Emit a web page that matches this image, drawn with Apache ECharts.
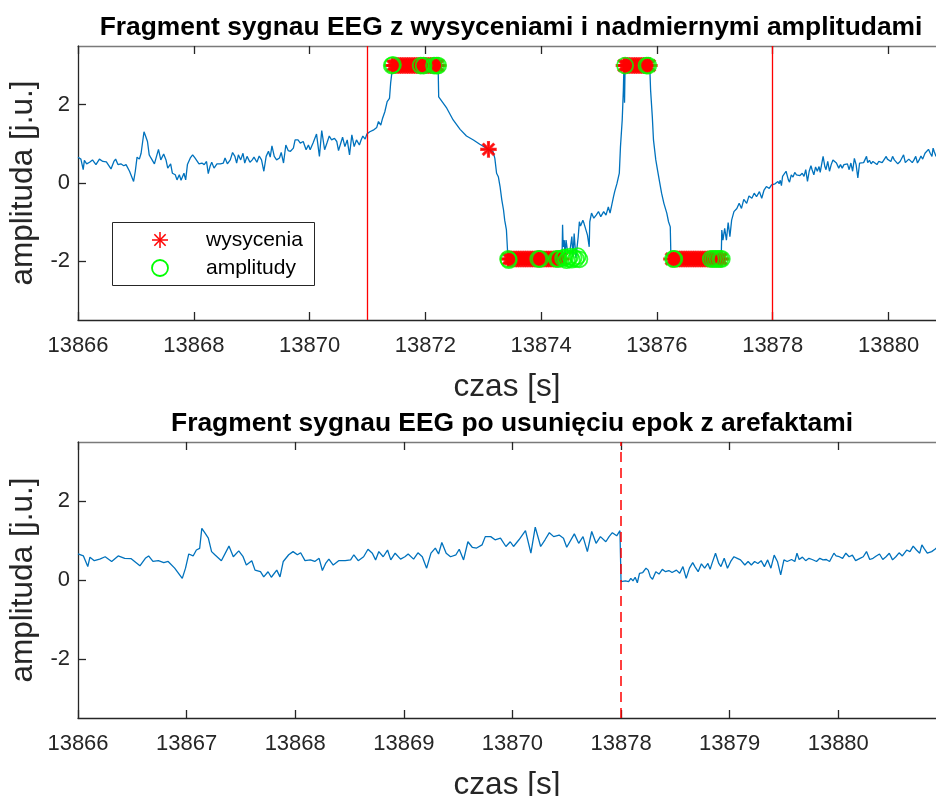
<!DOCTYPE html>
<html>
<head>
<meta charset="utf-8">
<script src="https://cdn.jsdelivr.net/npm/echarts@6/dist/echarts.min.js"></script>
<style>
  html, body { margin: 0; padding: 0; background: #ffffff; }
  #chart { width: 936px; height: 796px; }
</style>
</head>
<body>
<div id="chart"></div>
<script>
// Start of the fragment [s]; sample times below are offsets from it
const T0 = 13866;

// EEG fragment: sample times (offset from T0, s) and amplitudes [j.u.]
const czasSygnalu = [
  0.00, 0.05, 0.09, 0.11, 0.15, 0.20, 0.25, 0.31, 0.37, 0.43, 0.49, 0.57, 0.62, 0.65, 0.69, 0.74,
  0.79, 0.83, 0.89, 0.96, 0.99, 1.02, 1.06, 1.09, 1.12, 1.14, 1.17, 1.20, 1.23, 1.26, 1.32, 1.39,
  1.43, 1.48, 1.52, 1.55, 1.60, 1.63, 1.68, 1.71, 1.75, 1.78, 1.83, 1.86, 1.89, 1.94, 1.98, 2.02,
  2.05, 2.09, 2.14, 2.18, 2.22, 2.25, 2.28, 2.31, 2.35, 2.40, 2.46, 2.51, 2.54,
  2.58, 2.63, 2.67, 2.71, 2.74, 2.77, 2.81, 2.85, 2.88, 2.92, 2.97, 3.01, 3.04, 3.09, 3.13, 3.17,
  3.21, 3.25, 3.29, 3.32, 3.35, 3.39, 3.43, 3.48, 3.51, 3.55, 3.59, 3.63, 3.67, 3.72, 3.75, 3.80,
  3.84, 3.89, 3.94, 3.98, 4.01, 4.06, 4.12, 4.17, 4.21, 4.26, 4.30, 4.34, 4.38, 4.43, 4.47, 4.50,
  4.57, 4.61, 4.65, 4.69, 4.73, 4.77, 4.81, 4.86, 4.89, 4.92, 4.96, 4.99,
  5.04, 5.10, 5.16, 5.19, 5.23, 5.26, 5.30, 5.34, 5.38, 5.40, 5.42, 5.43, 6.22, 6.23, 6.25, 6.37,
  6.48, 6.60, 6.71, 6.83, 6.94, 7.09, 7.17, 7.20, 7.23, 7.26, 7.29, 7.32, 7.35, 7.37, 7.40, 7.42,
  7.43, 8.36, 8.37, 8.38, 8.40, 8.41, 8.43, 8.46, 8.50, 8.53, 8.55, 8.57, 8.60, 8.64, 8.66, 8.68,
  8.72, 8.74, 8.77, 8.80, 8.83, 8.84, 8.87, 8.91, 8.95, 8.99, 9.03, 9.08, 9.12, 9.16, 9.19, 9.22,
  9.25, 9.27, 9.31, 9.35, 9.37, 9.40, 9.42, 9.43, 9.44, 9.45, 9.87, 9.88, 9.89, 9.92, 9.94, 9.98,
  10.01, 10.05, 10.08, 10.12, 10.17, 10.20, 10.23, 10.24, 10.25, 11.11, 11.12, 11.14, 11.17, 11.20,
  11.23, 11.26, 11.29, 11.33, 11.38, 11.42, 11.46, 11.50, 11.55, 11.59, 11.64, 11.68, 11.72, 11.77,
  11.81, 11.85, 11.89, 11.94, 11.98,
  12.00, 12.01, 12.04, 12.07, 12.09, 12.11, 12.13, 12.15, 12.17, 12.20, 12.23, 12.25, 12.27, 12.29,
  12.32, 12.35, 12.38, 12.41, 12.44, 12.47, 12.51, 12.54, 12.57, 12.60, 12.63, 12.66, 12.68, 12.71,
  12.74, 12.77, 12.80, 12.82, 12.84, 12.87, 12.90, 12.92, 12.95, 12.98, 13.01, 13.04, 13.07, 13.10,
  13.14, 13.17, 13.20, 13.23, 13.26, 13.29, 13.32, 13.35, 13.38, 13.41, 13.44, 13.47, 13.50, 13.53,
  13.57, 13.60, 13.62, 13.64, 13.67, 13.70, 13.73, 13.76, 13.80, 13.83, 13.86, 13.89, 13.92, 13.96,
  13.98, 14.01, 14.04, 14.07, 14.10, 14.13, 14.16, 14.20, 14.23, 14.26, 14.29, 14.32, 14.35, 14.38,
  14.41, 14.44, 14.47, 14.50, 14.53, 14.56, 14.59, 14.63, 14.66, 14.69, 14.72, 14.75, 14.77, 14.79,
  14.82, 14.86, 14.89, 14.91
];
const amplitudaSygnalu = [
  0.66, 0.61, 0.34, 0.58, 0.49, 0.53, 0.59, 0.47, 0.61, 0.55, 0.54, 0.36, 0.55, 0.61, 0.47, 0.49,
  0.44, 0.47, 0.30, 0.04, 0.30, 0.66, 0.61, 0.76, 0.80, 1.31, 1.19, 1.06, 0.72, 0.64, 0.49, 0.86,
  0.59, 0.74, 0.59, 0.38, 0.49, 0.25, 0.21, 0.08, 0.21, 0.07, 0.25, 0.08, 0.47, 0.64, 0.72, 0.64,
  0.69, 0.49, 0.51, 0.47, 0.55, 0.24, 0.42, 0.53, 0.38, 0.49, 0.49, 0.51, 0.64,
  0.49, 0.59, 0.78, 0.68, 0.51, 0.72, 0.59, 0.76, 0.51, 0.68, 0.53, 0.59, 0.66, 0.53, 0.69, 0.59,
  0.30, 0.68, 0.81, 0.66, 0.95, 0.68, 0.59, 0.64, 0.78, 0.51, 0.97, 0.83, 0.81, 0.89, 1.10, 1.10,
  1.02, 1.06, 0.85, 0.97, 0.85, 1.02, 1.25, 0.68, 1.34, 0.85, 1.02, 1.20, 1.10, 1.14, 1.06, 0.83,
  1.17, 0.93, 1.10, 0.72, 1.23, 0.93, 1.10, 0.97, 1.10, 1.20, 1.12, 1.25,
  1.31, 1.35, 1.42, 1.57, 1.48, 1.65, 1.82, 2.08, 2.16, 2.55, 2.80, 3.00, 3.00, 2.20, 2.16, 1.91,
  1.61, 1.37, 1.20, 1.10, 0.99, 0.86, 0.80, 0.63, 0.25, 0.16, -0.09, -0.43, -0.69, -0.95, -1.20, -1.75,
  -1.94, -1.94, -1.07, -1.63, -1.46, -1.90, -1.46, -1.80, -1.71, -1.37, -1.88, -1.29, -1.92, -1.37, -0.99, -1.10,
  -0.95, -1.03, -0.99, -1.33, -1.63, -0.99, -0.77, -0.90, -0.82, -0.73, -0.86, -0.73, -0.82, -0.61, -0.77, -0.56,
  -0.35, -0.22, -0.01, 0.25, 0.93, 1.61, 2.38, 3.00, 2.05, 3.00, 3.00, 2.80, 2.38, 1.69, 1.10, 0.59,
  0.33, -0.01, -0.26, -0.52, -0.77, -0.99, -1.12, -1.80, -1.94, -1.94, -1.20, -1.46, -1.16, -1.46,
  -1.01, -1.37, -0.95, -0.73, -0.65, -0.52, -0.65, -0.42, -0.52, -0.33, -0.39, -0.26, -0.35, -0.22,
  -0.39, -0.18, -0.09, -0.14, -0.05,
  -0.04, -0.07, -0.02, -0.04, 0.04, -0.02, 0.07, -0.07, 0.17, 0.19, 0.30, 0.25, 0.08, 0.02,
  0.21, 0.15, 0.27, 0.21, 0.24, 0.19, 0.25, 0.17, 0.34, 0.04, 0.30, 0.44, 0.34, 0.21,
  0.41, 0.30, 0.42, 0.27, 0.44, 0.68, 0.42, 0.34, 0.55, 0.30, 0.47, 0.59, 0.55, 0.51,
  0.38, 0.47, 0.38, 0.47, 0.42, 0.49, 0.34, 0.51, 0.30, 0.63, 0.47, 0.13, 0.51, 0.47,
  0.52, 0.47, 0.68, 0.52, 0.58, 0.49, 0.55, 0.52, 0.47, 0.55, 0.51, 0.52, 0.47, 0.68,
  0.61, 0.59, 0.55, 0.68, 0.59, 0.63, 0.49, 0.55, 0.59, 0.72, 0.52, 0.55, 0.61, 0.66,
  0.52, 0.59, 0.68, 0.51, 0.59, 0.69, 0.61, 0.76, 0.72, 0.86, 0.76, 0.68, 0.89, 0.80,
  0.68, 0.72, 0.78, 0.83
];

// Detected saturation samples ("wysycenia")
const wysyceniaCzas = [
  5.43, 5.47, 5.51, 5.55, 5.59, 5.63, 5.67, 5.71, 5.75, 5.79, 5.83, 5.87, 5.91, 5.95, 5.99, 6.03,
  6.07, 6.11, 6.15, 6.19, 6.22,
  7.09,
  7.43, 7.47, 7.51, 7.55, 7.59, 7.63, 7.67, 7.71, 7.75, 7.79, 7.83, 7.87, 7.91, 7.95, 7.99, 8.03,
  8.07, 8.11, 8.15, 8.19, 8.23, 8.27, 8.31, 8.35,
  9.43, 9.47, 9.51, 9.55, 9.59, 9.63, 9.67, 9.71, 9.75, 9.79, 9.83, 9.87,
  10.25, 10.29, 10.33, 10.37, 10.41, 10.45, 10.49, 10.53, 10.57, 10.61, 10.65, 10.69, 10.73, 10.77,
  10.81, 10.85, 10.89, 10.93, 10.97, 11.01, 11.05, 11.09, 11.11
];
const wysyceniaAmp = [
  3.00, 3.00, 3.00, 3.00, 3.00, 3.00, 3.00, 3.00, 3.00, 3.00, 3.00, 3.00, 3.00, 3.00, 3.00, 3.00,
  3.00, 3.00, 3.00, 3.00, 3.00,
  0.86,
  -1.94, -1.94, -1.94, -1.94, -1.94, -1.94, -1.94, -1.94, -1.94, -1.94, -1.94, -1.94, -1.94, -1.94, -1.94, -1.94,
  -1.94, -1.94, -1.94, -1.94, -1.94, -1.94, -1.94, -1.94,
  3.00, 3.00, 3.00, 3.00, 3.00, 3.00, 3.00, 3.00, 3.00, 3.00, 3.00, 3.00,
  -1.94, -1.94, -1.94, -1.94, -1.94, -1.94, -1.94, -1.94, -1.94, -1.94, -1.94, -1.94, -1.94, -1.94,
  -1.94, -1.94, -1.94, -1.94, -1.94, -1.94, -1.94, -1.94, -1.94
];

// Samples flagged for excessive amplitude ("amplitudy")
const amplitudyCzas = [
  5.42, 5.44, 5.92, 5.97, 6.15, 6.19, 6.22,
  9.45, 9.82, 9.85,
  7.43, 7.44, 7.95, 7.98, 8.27, 8.30, 8.38, 8.41, 8.44, 8.47, 8.50, 8.53, 8.56, 8.60, 8.63, 8.66,
  10.28, 10.30, 10.93, 10.97, 11.01, 11.05, 11.09, 11.12
];
const amplitudyAmp = [
  3.00, 3.02, 3.00, 3.00, 3.00, 3.00, 3.00,
  3.00, 3.00, 3.00,
  -1.94, -1.97, -1.94, -1.94, -1.94, -1.94, -1.92, -1.90, -1.97, -1.93, -1.88, -1.96, -1.91, -1.94, -1.87, -1.95,
  -1.94, -1.94, -1.94, -1.94, -1.94, -1.94, -1.94, -1.94
];

// Epoch with artefacts that is removed in the lower panel [s]
const epokaArtefaktu = [13871, 13878];

// Axis ticks
const ticksGora = [13866, 13868, 13870, 13872, 13874, 13876, 13878, 13880];
const ticksDol = [13866, 13867, 13868, 13869, 13870, 13878, 13879, 13880];
const ticksAmp = [-2, 0, 2];

const tytulGora = 'Fragment sygnau EEG z wysyceniami i nadmiernymi amplitudami';
const tytulDol = 'Fragment sygnau EEG po usunięciu epok z arefaktami';
const etykietaX = 'czas [s]';
const etykietaY = 'amplituda [j.u.]';
const nazwySerii = ['wysycenia', 'amplitudy'];

// ---- derived series ----
const usunietaDlugosc = epokaArtefaktu[1] - epokaArtefaktu[0];
const toCompressed = t => (t >= epokaArtefaktu[1] ? t - usunietaDlugosc : t);
const etykietyDol = new Map(ticksDol.map(t => [toCompressed(t), t]));

const sygnalGora = czasSygnalu.map((c, i) => [T0 + c, amplitudaSygnalu[i]]);
const sygnalDol = [];
czasSygnalu.forEach((c, i) => {
  const t = T0 + c;
  if (t <= epokaArtefaktu[0] || t >= epokaArtefaktu[1]) sygnalDol.push([toCompressed(t), amplitudaSygnalu[i]]);
});
const wysyceniaPts = wysyceniaCzas.map((c, i) => [T0 + c, wysyceniaAmp[i]]);
const amplitudyPts = amplitudyCzas.map((c, i) => [T0 + c, amplitudyAmp[i]]);

// MATLAB-like asterisk marker built from four thin bars
const ASTERISK_PATH = 'M-1,-10L1,-10L1,10L-1,10Z M-10,-1L10,-1L10,1L-10,1Z ' +
  'M-6.3,-7.7L7.7,6.3L6.3,7.7L-7.7,-6.3Z M6.3,-7.7L7.7,-6.3L-6.3,7.7L-7.7,6.3Z';

const FONT = "'Liberation Sans', Arial, Helvetica, sans-serif";
const AXIS_DARK = '#262626';
const BLUE = '#0072BD';
const RED = '#FF0000';
const GREEN = '#00FF00';

const topRange = { min: 13866, max: 13880.82 };
const botRange = { min: 13866, max: 13873.9 };
const ampRange = { min: -3.5, max: 3.5 };

function bottomXAxis(gridIndex, range, ticks, formatter) {
  return {
    type: 'value', gridIndex, position: 'bottom', min: range.min, max: range.max,
    name: etykietaX, nameLocation: 'middle', nameGap: 51,
    nameTextStyle: { fontFamily: FONT, fontSize: 31.5, color: AXIS_DARK },
    axisLine: { show: true, onZero: false, lineStyle: { color: AXIS_DARK, width: 1.3 } },
    axisTick: { show: true, inside: true, length: 8, customValues: ticks, lineStyle: { color: AXIS_DARK, width: 1.3 } },
    axisLabel: { show: true, customValues: ticks, margin: 15, fontFamily: FONT, fontSize: 22, color: AXIS_DARK,
      formatter: formatter || (v => String(v)) },
    splitLine: { show: false }
  };
}
function topXAxis(gridIndex, range, ticks) {
  return {
    type: 'value', gridIndex, position: 'top', min: range.min, max: range.max,
    axisLine: { show: true, onZero: false, lineStyle: { color: '#7a7a7a', width: 1.3 } },
    axisTick: { show: true, inside: true, length: 8, customValues: ticks, lineStyle: { color: AXIS_DARK, width: 1.3 } },
    axisLabel: { show: false },
    splitLine: { show: false }
  };
}
function leftYAxis(gridIndex) {
  return {
    type: 'value', gridIndex, min: ampRange.min, max: ampRange.max,
    name: etykietaY, nameLocation: 'middle', nameGap: 31,
    nameTextStyle: { fontFamily: FONT, fontSize: 31.5, color: AXIS_DARK },
    axisLine: { show: true, onZero: false, lineStyle: { color: AXIS_DARK, width: 1.3 } },
    axisTick: { show: true, inside: true, length: 8, customValues: ticksAmp, lineStyle: { color: AXIS_DARK, width: 1.3 } },
    axisLabel: { show: true, customValues: ticksAmp, margin: 8, fontFamily: FONT, fontSize: 22, color: AXIS_DARK },
    splitLine: { show: false }
  };
}

// Legend box of the upper panel
const legendBox = { x: 112, y: 222, w: 202, h: 63, iconX: 160, textX: 206, rowY: [240, 268], arm: 8 };
const asteriskArms = [[0, -1], [1, 0], [0.7071, -0.7071], [0.7071, 0.7071]];
const legendGraphic = [
  { type: 'rect', z: 100, shape: { x: legendBox.x + 0.5, y: legendBox.y + 0.5, width: legendBox.w, height: legendBox.h },
    style: { fill: '#ffffff', stroke: AXIS_DARK, lineWidth: 1 } },
  ...asteriskArms.map(([dx, dy]) => ({
    type: 'line', z: 101,
    shape: { x1: legendBox.iconX - dx * legendBox.arm, y1: legendBox.rowY[0] - dy * legendBox.arm,
             x2: legendBox.iconX + dx * legendBox.arm, y2: legendBox.rowY[0] + dy * legendBox.arm },
    style: { stroke: RED, lineWidth: 1.5 }
  })),
  { type: 'circle', z: 101, shape: { cx: legendBox.iconX, cy: legendBox.rowY[1], r: 8 },
    style: { fill: 'none', stroke: GREEN, lineWidth: 1.8 } },
  { type: 'text', z: 101, x: legendBox.textX, y: legendBox.rowY[0],
    style: { text: nazwySerii[0], font: "21px 'Liberation Sans', Arial, sans-serif", fill: '#000', verticalAlign: 'middle' } },
  { type: 'text', z: 101, x: legendBox.textX, y: legendBox.rowY[1],
    style: { text: nazwySerii[1], font: "21px 'Liberation Sans', Arial, sans-serif", fill: '#000', verticalAlign: 'middle' } }
];

const chart = echarts.init(document.getElementById('chart'), null, { renderer: 'canvas' });
chart.setOption({
  animation: false,
  backgroundColor: '#ffffff',
  title: [
    { text: tytulGora, left: 511, top: 15, textAlign: 'center', padding: 0,
      textStyle: { fontFamily: FONT, fontSize: 26.4, fontWeight: 'bold', color: '#000' } },
    { text: tytulDol, left: 512, top: 411, textAlign: 'center', padding: 0,
      textStyle: { fontFamily: FONT, fontSize: 26.4, fontWeight: 'bold', color: '#000' } }
  ],
  grid: [
    { left: 78, top: 46, right: 0, height: 274, outerBoundsMode: 'none', containLabel: false },
    { left: 78, top: 442, right: 0, height: 276, outerBoundsMode: 'none', containLabel: false }
  ],
  xAxis: [
    bottomXAxis(0, topRange, ticksGora),
    topXAxis(0, topRange, ticksGora),
    bottomXAxis(1, botRange, ticksDol.map(toCompressed), v => String(etykietyDol.has(v) ? etykietyDol.get(v) : v)),
    topXAxis(1, botRange, ticksDol.map(toCompressed))
  ],
  yAxis: [leftYAxis(0), leftYAxis(1)],
  graphic: legendGraphic,
  series: [
    {
      name: 'sygnal', type: 'line', xAxisIndex: 0, yAxisIndex: 0, data: sygnalGora,
      showSymbol: false, symbol: 'none', lineStyle: { color: BLUE, width: 1.3 }, z: 2,
      markLine: {
        silent: true, symbol: 'none', label: { show: false },
        lineStyle: { color: RED, type: 'solid', width: 1.3 },
        data: epokaArtefaktu.map(v => ({ xAxis: v }))
      }
    },
    {
      name: nazwySerii[0], type: 'scatter', xAxisIndex: 0, yAxisIndex: 0, data: wysyceniaPts,
      symbol: 'path://' + ASTERISK_PATH, symbolSize: 15,
      itemStyle: { color: RED, borderColor: RED, borderWidth: 1.6 }, z: 3
    },
    {
      name: nazwySerii[1], type: 'scatter', xAxisIndex: 0, yAxisIndex: 0, data: amplitudyPts,
      symbol: 'circle', symbolSize: 16,
      itemStyle: { color: 'rgba(0,0,0,0)', borderColor: GREEN, borderWidth: 1.8 }, z: 4
    },
    {
      name: 'sygnal po usunieciu', type: 'line', xAxisIndex: 2, yAxisIndex: 1, data: sygnalDol,
      showSymbol: false, symbol: 'none', lineStyle: { color: BLUE, width: 1.3 }, z: 2,
      markLine: {
        silent: true, symbol: 'none', label: { show: false },
        lineStyle: { color: RED, type: [10, 6], width: 1.5 },
        data: [{ xAxis: toCompressed(epokaArtefaktu[1]) }]
      }
    }
  ]
});
</script>
</body>
</html>
